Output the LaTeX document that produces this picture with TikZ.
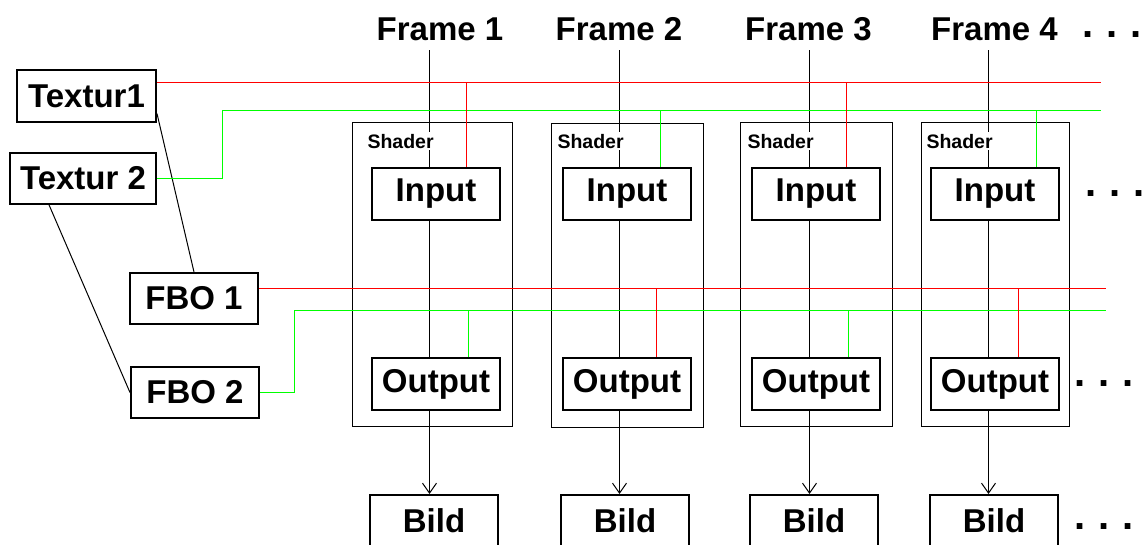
\documentclass[tikz,border=0pt]{standalone}
\usepackage{fontspec}
\setmainfont{Liberation Sans}
\usetikzlibrary{arrows.meta}

\begin{document}
\begin{tikzpicture}[x=1pt,y=-1pt,line width=1pt,
	box/.style={draw,line width=2pt,inner sep=0pt,font=\bfseries\fontsize{33}{36}\selectfont},
	sbox/.style={box,minimum width=128pt,minimum height=52pt},
	shaderbox/.style={draw,inner sep=0pt,minimum height=304pt},
	lbl/.style={anchor=base,inner sep=0pt,font=\bfseries\fontsize{33}{36}\selectfont},
	slbl/.style={anchor=base west,fill=white,inner sep=2pt,font=\bfseries\fontsize{19.5}{22}\selectfont},
	dotrow/.style={anchor=base west,inner sep=0pt,font=\bfseries\fontsize{40}{44}\selectfont},
	rline/.style={red},
	gline/.style={green},
	tip/.style={-{Straight Barb[length=10pt,width=14pt]}}]
	
	\path[use as bounding box,fill=white] (0,0) rectangle (1143,544);
	
	% textures and framebuffers
	\node[box,minimum width=139pt,minimum height=52pt] (tex1) at (86.5,96) {Textur1};
	\node[box,minimum width=146pt,minimum height=51pt] (tex2) at (83,178.5) {Textur 2};
	\node[box,minimum width=128pt,minimum height=51pt] (fbo1) at (194,298.5) {FBO 1};
	\node[box,minimum width=128pt,minimum height=51pt] (fbo2) at (195,392.5) {FBO 2};
	
	% shader frames
	\node[shaderbox,minimum width=160pt] (sh1) at (432.5,274.5) {};
	\node[shaderbox,minimum width=152pt] (sh2) at (627.5,275.5) {};
	\node[shaderbox,minimum width=152pt] (sh3) at (816.5,274.5) {};
	\node[shaderbox,minimum width=148pt] (sh4) at (995.5,274.5) {};
	
	\node[lbl] (frame1) at (440,40) {Frame 1};
	\node[lbl] (frame2) at (619,40) {Frame 2};
	\node[lbl] (frame3) at (808.5,40) {Frame 3};
	\node[lbl] (frame4) at (994.5,40) {Frame 4};
	
	\node[sbox] (in1) at (436,194) {Input};
	\node[sbox] (in2) at (627,194) {Input};
	\node[sbox] (in3) at (816,194) {Input};
	\node[sbox] (in4) at (995,194) {Input};
	
	\node[sbox] (out1) at (436,384) {Output};
	\node[sbox] (out2) at (627,384) {Output};
	\node[sbox] (out3) at (816,384) {Output};
	\node[sbox] (out4) at (995,384) {Output};
	
	\node[sbox] (bild1) at (434,521) {Bild};
	\node[sbox] (bild2) at (625,521) {Bild};
	\node[sbox] (bild3) at (814,521) {Bild};
	\node[sbox] (bild4) at (994,521) {Bild};
	
	\node[dotrow] (dots1) at (1082,37) {.\hspace{13pt}.\hspace{13pt}.};
	\node[dotrow] (dots2) at (1085,196) {.\hspace{13pt}.\hspace{13pt}.};
	\node[dotrow] (dots3) at (1074,386) {.\hspace{13pt}.\hspace{13pt}.};
	\node[dotrow] (dots4) at (1074,529) {.\hspace{13pt}.\hspace{13pt}.};
	
	% frame columns
	\coordinate (col1) at (429.5,50);
	\coordinate (col2) at (619.5,50);
	\coordinate (col3) at (809.5,50);
	\coordinate (col4) at (988.5,50);
	
	\draw (col1) -- (col1 |- in1.north);
	\draw (col1 |- in1.south) -- (col1 |- out1.north);
	\draw[tip] (col1 |- out1.south) -- (col1 |- bild1.north);
	\draw (col2) -- (col2 |- in2.north);
	\draw (col2 |- in2.south) -- (col2 |- out2.north);
	\draw[tip] (col2 |- out2.south) -- (col2 |- bild2.north);
	\draw (col3) -- (col3 |- in3.north);
	\draw (col3 |- in3.south) -- (col3 |- out3.north);
	\draw[tip] (col3 |- out3.south) -- (col3 |- bild3.north);
	\draw (col4) -- (col4 |- in4.north);
	\draw (col4 |- in4.south) -- (col4 |- out4.north);
	\draw[tip] (col4 |- out4.south) -- (col4 |- bild4.north);
	
	\node[slbl] (slbl1) at (365,148) {Shader};
	\node[slbl] (slbl2) at (555,148) {Shader};
	\node[slbl] (slbl3) at (745,148) {Shader};
	\node[slbl] (slbl4) at (924,148) {Shader};
	
	% texture links
	\draw (tex1.-14) -- (fbo1.north);
	\draw (tex2.218) -- (fbo2.west);
	
	% buses
	\coordinate (r1) at (1101,82.5);
	\coordinate (g1) at (1101,110.5);
	\coordinate (r2) at (1106,288.5);
	\coordinate (g2) at (1106,310.5);
	
	\draw[rline] (tex1.east |- r1) -- (r1);
	\draw[gline] (tex2.east) -| (222.5,110.5) -- (g1);
	\draw[rline] (fbo1.east |- r2) -- (r2);
	\draw[gline] (fbo2.east) -| (294.5,310.5) -- (g2);
	
	\coordinate (ta1) at (466.5,82.5);
	\coordinate (tb1) at (468.5,310.5);
	\coordinate (ta2) at (660.5,110.5);
	\coordinate (tb2) at (656.5,288.5);
	\coordinate (ta3) at (846.5,82.5);
	\coordinate (tb3) at (848.5,310.5);
	\coordinate (ta4) at (1036.5,110.5);
	\coordinate (tb4) at (1018.5,288.5);
	
	\draw[rline] (ta1) -- (ta1 |- in1.north);
	\draw[gline] (tb1) -- (tb1 |- out1.north);
	\draw[gline] (ta2) -- (ta2 |- in2.north);
	\draw[rline] (tb2) -- (tb2 |- out2.north);
	\draw[rline] (ta3) -- (ta3 |- in3.north);
	\draw[gline] (tb3) -- (tb3 |- out3.north);
	\draw[gline] (ta4) -- (ta4 |- in4.north);
	\draw[rline] (tb4) -- (tb4 |- out4.north);
	
\end{tikzpicture}
\end{document}
